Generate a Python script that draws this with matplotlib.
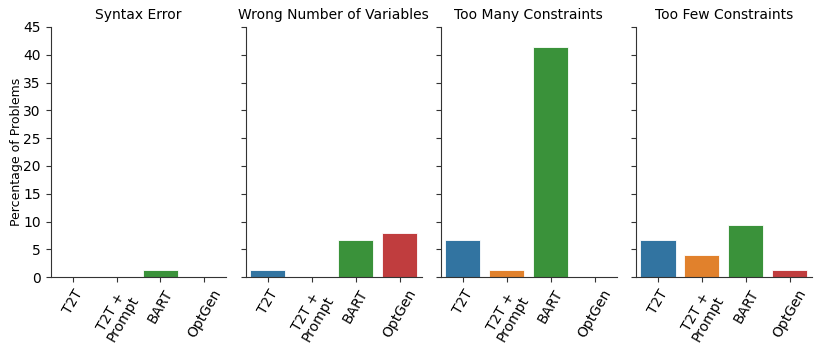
import numpy as np
import matplotlib
matplotlib.use("Agg")
from matplotlib import pyplot as plt
import seaborn as sns

categories = ["Syntax Error", "Wrong Number of Variables",
              "Too Many Constraints", "Too Few Constraints"]
models = ["T2T", "T2T +\nPrompt", "BART", "OptGen"]
values = {
    "Syntax Error": [0.0, 0.0, 1.33, 0.0],
    "Wrong Number of Variables": [1.33, 0.0, 6.67, 8.0],
    "Too Many Constraints": [6.67, 1.33, 41.33, 0.0],
    "Too Few Constraints": [6.67, 4.0, 9.33, 1.33],
}

sns.set_style("ticks")
plt.rcParams["font.family"] = ["DejaVu Sans"]
plt.rcParams["text.color"] = "black"
plt.rcParams["axes.labelcolor"] = "black"
plt.rcParams["xtick.color"] = "#333333"
plt.rcParams["ytick.color"] = "#333333"
plt.rcParams["xtick.labelcolor"] = "black"
plt.rcParams["ytick.labelcolor"] = "black"
plt.rcParams["axes.edgecolor"] = "#333333"

fig, axes = plt.subplots(1, 4, figsize=(8.3, 3.46), dpi=100, sharey=True)
fig.subplots_adjust(left=0.061, right=0.978, top=0.922, bottom=0.199, wspace=0.11)

palette = sns.color_palette(sns.color_palette()[:4], desat=0.75)

for ax, cat in zip(axes, categories):
    x = np.arange(len(models))
    ax.bar(x, values[cat], width=0.8, color=palette, edgecolor="white", linewidth=0.6)
    ax.set_title(cat, fontsize=10)
    ax.set_xticks(x)
    ax.set_xticklabels(models, rotation=60, ha="center", fontsize=10, linespacing=1.0)
    ax.set_xlim(-0.5, 3.5)
    sns.despine(ax=ax)
    ax.tick_params(labelsize=10)

axes[0].set_ylim(0, 45)
axes[0].set_yticks(range(0, 46, 5))
axes[0].set_ylabel("Percentage of Problems", fontsize=9, labelpad=0.5)

fig.savefig("out.png", dpi=100)
